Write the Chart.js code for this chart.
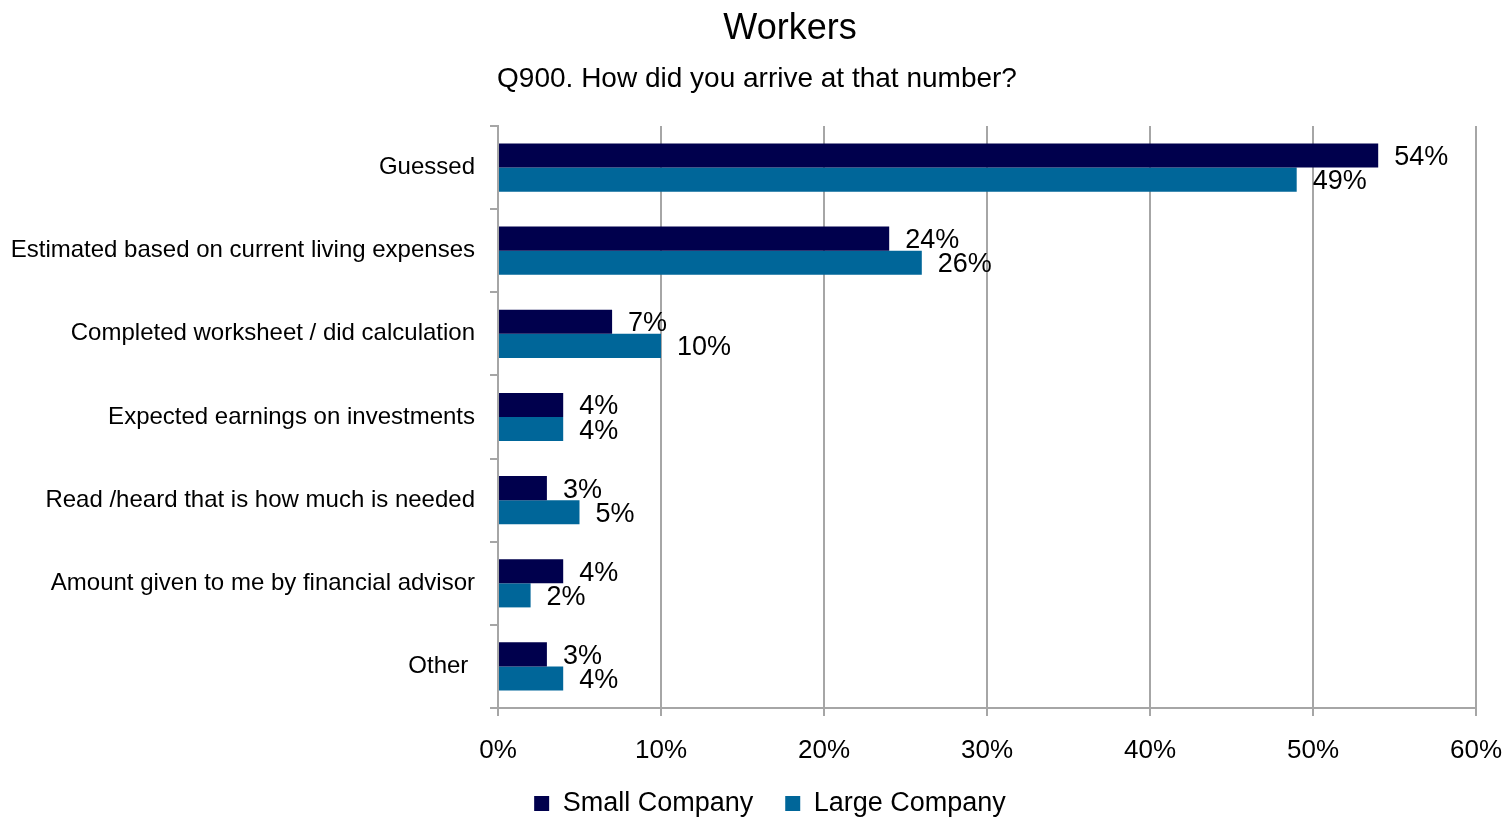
<!DOCTYPE html>
<html>
<head>
<meta charset="utf-8">
<title>Workers</title>
<script src="https://cdn.jsdelivr.net/npm/chart.js@4.4.1/dist/chart.umd.min.js"></script>
<style>
  html, body { margin: 0; padding: 0; background: #fff; }
  #wrap { width: 1510px; height: 818px; }
</style>
</head>
<body>
<div id="wrap"><canvas id="chart"></canvas></div>
<script>
// chart data
const categories = [
  'Guessed',
  'Estimated based on current living expenses',
  'Completed worksheet / did calculation',
  'Expected earnings on investments',
  'Read /heard that is how much is needed',
  'Amount given to me by financial advisor',
  'Other '
];
const smallCompany = [54, 24, 7, 4, 3, 4, 3];
const largeCompany = [49, 26, 10, 4, 5, 2, 4];
const seriesNames = ['Small Company', 'Large Company'];
const titleText = 'Workers';
const subtitleText = 'Q900. How did you arrive at that number?';

const FONT = "'Liberation Sans', Arial, sans-serif";
const GRID = '#a6a6a6';

// titles drawn above the plot
const titlesPlugin = {
  id: 'titles',
  afterDraw(chart) {
    const ctx = chart.ctx;
    ctx.save();
    ctx.fillStyle = '#000';
    ctx.textAlign = 'center';
    ctx.textBaseline = 'middle';
    ctx.font = '36px ' + FONT;
    ctx.fillText(titleText, 790, 29);
    ctx.font = '28px ' + FONT;
    ctx.fillText(subtitleText, 757, 79);
    ctx.restore();
  }
};

// value labels just past the end of each bar
const valueLabels = {
  id: 'valueLabels',
  afterDatasetsDraw(chart) {
    const ctx = chart.ctx;
    ctx.save();
    ctx.fillStyle = '#000';
    ctx.font = '27px ' + FONT;
    ctx.textAlign = 'left';
    ctx.textBaseline = 'middle';
    chart.data.datasets.forEach((ds, i) => {
      chart.getDatasetMeta(i).data.forEach((bar, j) => {
        ctx.fillText(ds.data[j] + '%', bar.x + 16, bar.y + 2);
      });
    });
    ctx.restore();
  }
};

// nudge the legend a little to the right, like the original
const legendShift = {
  id: 'legendShift',
  afterLayout(chart) {
    if (chart.legend) {
      chart.legend.left += 32;
      chart.legend.right += 32;
    }
  }
};

new Chart(document.getElementById('chart'), {
  type: 'bar',
  data: {
    labels: categories,
    datasets: [
      { label: seriesNames[0], data: smallCompany, backgroundColor: '#00004d' },
      { label: seriesNames[1], data: largeCompany, backgroundColor: '#006699' }
    ]
  },
  options: {
    indexAxis: 'y',
    responsive: true,
    maintainAspectRatio: false,
    animation: false,
    categoryPercentage: 0.58,
    barPercentage: 1.0,
    layout: { padding: { top: 126, right: 34, left: 0, bottom: 0 } },
    plugins: {
      title: { display: false },
      tooltip: { enabled: false },
      legend: {
        position: 'bottom',
        maxHeight: 60,
        labels: {
          font: { family: FONT, size: 27 },
          color: '#000',
          boxWidth: 15,
          boxHeight: 15,
          padding: 32
        }
      }
    },
    scales: {
      x: {
        min: 0,
        max: 60,
        ticks: {
          stepSize: 10,
          callback: v => v + '%',
          font: { family: FONT, size: 26 },
          color: '#000',
          padding: 19
        },
        grid: { color: GRID, lineWidth: 2, tickLength: 8 },
        border: { color: GRID, width: 2 },
        afterFit(scale) {
          scale.height = 50;
          scale.paddingRight = 0;
        }
      },
      y: {
        ticks: {
          font: { family: FONT, size: 24 },
          color: '#000',
          padding: 15
        },
        grid: { offset: true, drawOnChartArea: false, color: GRID, lineWidth: 2, tickLength: 8 },
        border: { color: GRID, width: 2 },
        afterFit(scale) { scale.width = 498; }
      }
    }
  },
  plugins: [titlesPlugin, valueLabels, legendShift]
});
</script>
</body>
</html>
